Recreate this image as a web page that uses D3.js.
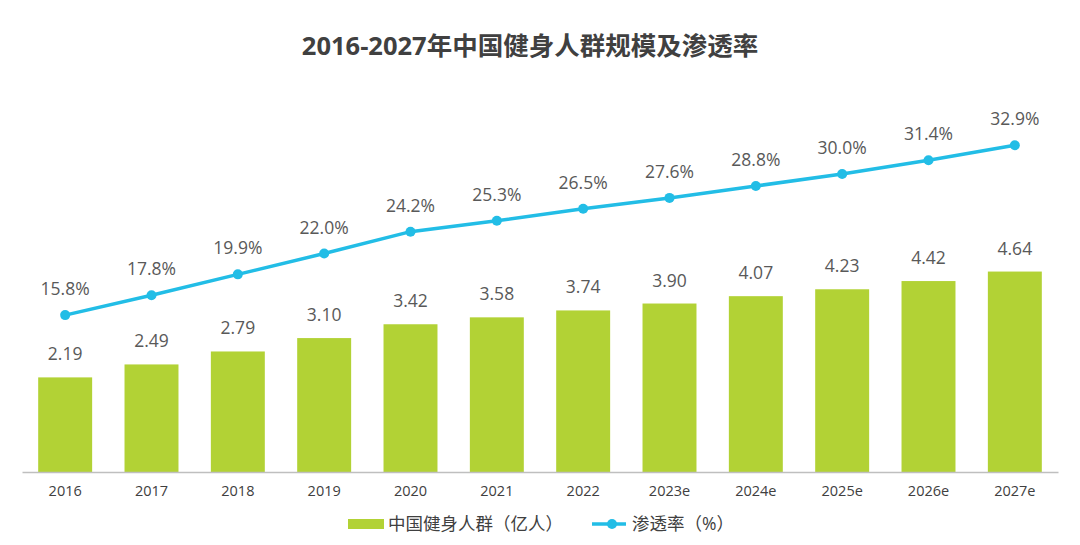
<!DOCTYPE html>
<html>
<head>
<meta charset="utf-8">
<script src="https://cdn.jsdelivr.net/npm/d3@7"></script>
<style>
  body { margin: 0; background: #fff; }
  text { font-family: "Open Sans", "Noto Sans CJK SC", sans-serif; }
</style>
</head>
<body>
<div id="chart-area"></div>
<script>
const years = ["2016", "2017", "2018", "2019", "2020", "2021", "2022", "2023e", "2024e", "2025e", "2026e", "2027e"];
const people = [2.19, 2.49, 2.79, 3.10, 3.42, 3.58, 3.74, 3.90, 4.07, 4.23, 4.42, 4.64];
const rate = [15.8, 17.8, 19.9, 22.0, 24.2, 25.3, 26.5, 27.6, 28.8, 30.0, 31.4, 32.9];

const width = 1080;
const height = 545;
const barColor = "#b2d235";
const lineColor = "#22bde6";

const svg = d3.select("#chart-area")
  .append("svg")
  .attr("width", width)
  .attr("height", height);

// titulo
svg.append("text")
  .attr("x", 530)
  .attr("y", 55)
  .attr("text-anchor", "middle")
  .attr("font-size", "25.5px")
  .attr("font-weight", "bold")
  .attr("fill", "#404040")
  .text("2016-2027年中国健身人群规模及渗透率");

// escalas
const x = d3.scaleBand().domain(years).range([22, 1058]).paddingInner(0.375).paddingOuter(0.1875);
const y = d3.scaleLinear().domain([0, 10]).range([472, 40]);
const y2 = d3.scaleLinear().domain([0, 43.5]).range([472, 40]);

// barras
svg.selectAll("rect.bar")
  .data(people)
  .enter().append("rect")
  .attr("class", "bar")
  .attr("x", (d, i) => x(years[i]))
  .attr("y", d => y(d))
  .attr("width", x.bandwidth())
  .attr("height", d => y(0) - y(d))
  .attr("fill", barColor);

svg.selectAll("text.barlabel")
  .data(people)
  .enter().append("text")
  .attr("class", "barlabel")
  .attr("x", (d, i) => x(years[i]) + x.bandwidth() / 2)
  .attr("y", d => y(d) - 17)
  .attr("text-anchor", "middle")
  .attr("font-size", "17.5px")
  .attr("fill", "#595959")
  .text(d => d.toFixed(2));

// eje x
const axisBottom = d3.axisBottom(x).tickSize(0).tickPadding(14);
const xGroup = svg.append("g")
  .attr("transform", `translate(0, ${y(0)})`)
  .call(axisBottom);
xGroup.select(".domain").attr("stroke", "#bfbfbf").attr("stroke-width", 1.5);
xGroup.selectAll("text")
  .attr("font-size", "14.5px")
  .attr("fill", "#404040")
  .attr("font-family", "\"Open Sans\", sans-serif");

// linea
const line = d3.line()
  .x((d, i) => x(years[i]) + x.bandwidth() / 2)
  .y(d => y2(d));

svg.append("path")
  .datum(rate)
  .attr("d", line)
  .attr("fill", "none")
  .attr("stroke", lineColor)
  .attr("stroke-width", 3.5);

svg.selectAll("circle.dot")
  .data(rate)
  .enter().append("circle")
  .attr("class", "dot")
  .attr("cx", (d, i) => x(years[i]) + x.bandwidth() / 2)
  .attr("cy", d => y2(d))
  .attr("r", 5)
  .attr("fill", lineColor);

svg.selectAll("text.ratelabel")
  .data(rate)
  .enter().append("text")
  .attr("class", "ratelabel")
  .attr("x", (d, i) => x(years[i]) + x.bandwidth() / 2)
  .attr("y", d => y2(d) - 20)
  .attr("text-anchor", "middle")
  .attr("font-size", "17.5px")
  .attr("fill", "#595959")
  .text(d => d.toFixed(1) + "%");

// leyenda
const legend = svg.append("g").attr("transform", "translate(348, 524)");
legend.append("rect")
  .attr("x", 0).attr("y", -5)
  .attr("width", 36).attr("height", 10)
  .attr("fill", barColor);
legend.append("text")
  .attr("x", 40).attr("y", 6)
  .attr("font-size", "17.5px")
  .attr("fill", "#404040")
  .text("中国健身人群（亿人）");
legend.append("line")
  .attr("x1", 244).attr("x2", 278)
  .attr("y1", 0).attr("y2", 0)
  .attr("stroke", lineColor).attr("stroke-width", 3.5);
legend.append("circle")
  .attr("cx", 264).attr("cy", 0).attr("r", 5)
  .attr("fill", lineColor);
legend.append("text")
  .attr("x", 284).attr("y", 6)
  .attr("font-size", "17.5px")
  .attr("fill", "#404040")
  .text("渗透率（%）");
</script>
</body>
</html>
